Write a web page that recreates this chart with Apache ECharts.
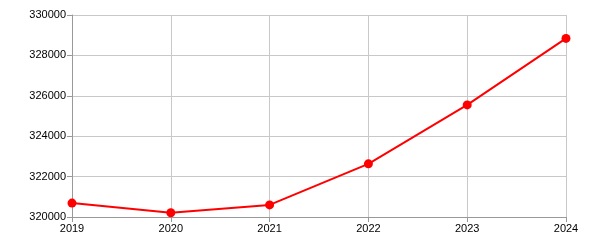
<!DOCTYPE html>
<html><head><meta charset="utf-8">
<script src="https://cdn.jsdelivr.net/npm/echarts@6/dist/echarts.min.js"></script>
<style>html,body{margin:0;padding:0;background:#fff}#c{width:600px;height:250px}</style>
</head><body><div id="c"></div>
<script>
const years = ['2019','2020','2021','2022','2023','2024'];
const values = [320690, 320210, 320600, 322630, 325550, 328840];
const yMin = 320000, yMax = 330000, yStep = 2000;

const chart = echarts.init(document.getElementById('c'), null, {renderer:'canvas'});
chart.setOption({
  animation:false,
  grid:{left:72, right:34, top:15, bottom:33, containLabel:false},
  xAxis:{
    type:'category', data:years, boundaryGap:false,
    axisLine:{lineStyle:{color:'#999',width:1}},
    axisTick:{show:true, length:5, lineStyle:{color:'#999'}},
    axisLabel:{color:'#000', fontFamily:'Liberation Sans, Arial, sans-serif', fontSize:11, margin:6},
    splitLine:{show:true, lineStyle:{color:'#c8c8c8', width:1}}
  },
  yAxis:{
    type:'value', min:yMin, max:yMax, interval:yStep,
    axisLine:{show:true, lineStyle:{color:'#999',width:1}},
    axisTick:{show:true, length:5, lineStyle:{color:'#999'}},
    axisLabel:{color:'#000', fontFamily:'Liberation Sans, Arial, sans-serif', fontSize:11, margin:6,
      formatter:function(v){return String(v);}},
    splitLine:{show:true, lineStyle:{color:'#c8c8c8', width:1}}
  },
  series:[{
    type:'line', data:values, symbol:'circle', symbolSize:9,
    itemStyle:{color:'#ff0000'}, lineStyle:{color:'#ff0000', width:2}
  }]
});
</script></body></html>
